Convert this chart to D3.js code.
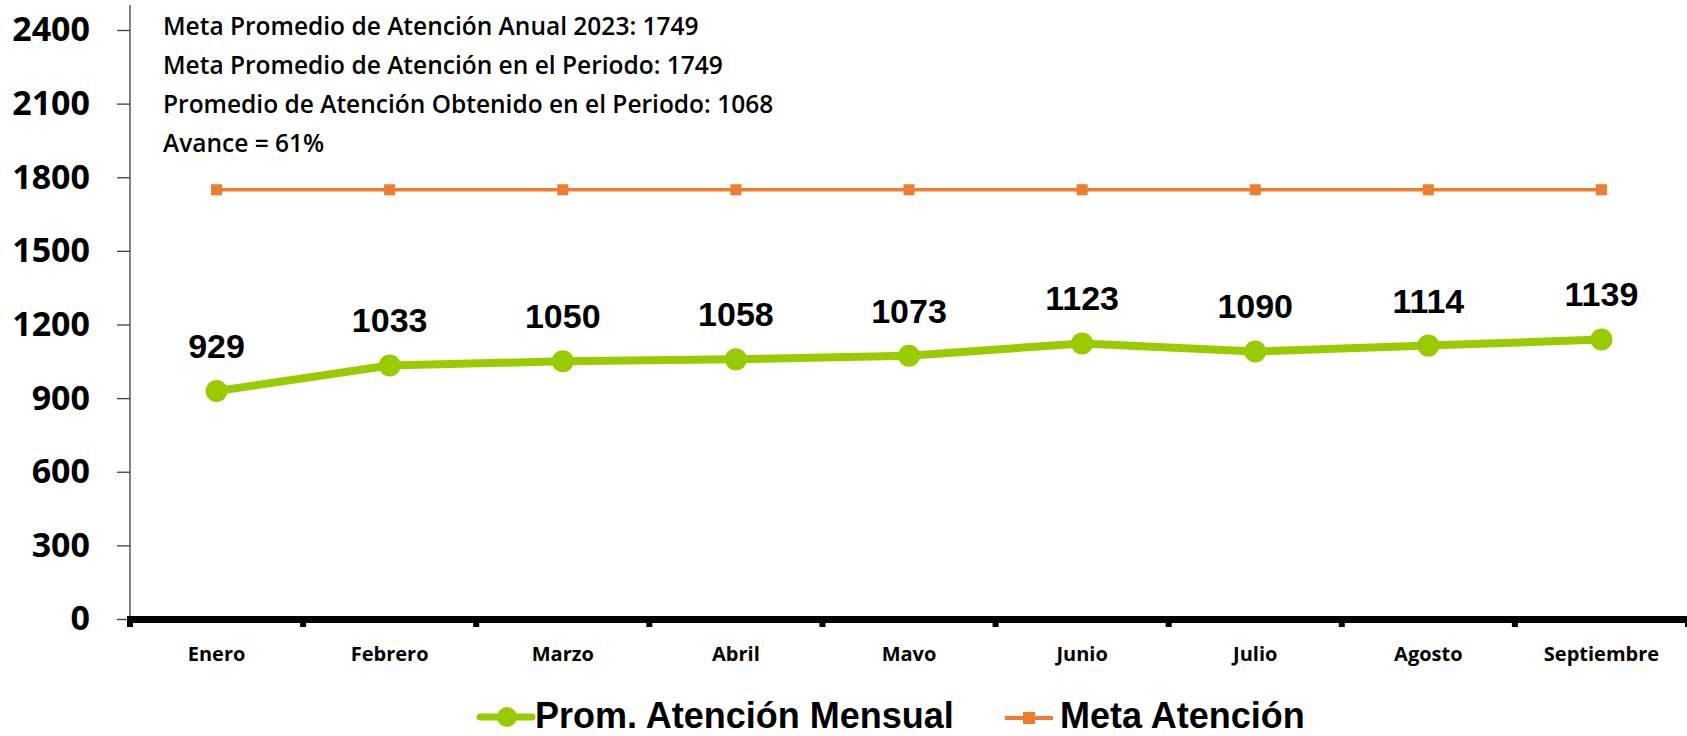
<!DOCTYPE html>
<html>
<head>
<meta charset="utf-8">
<script src="https://cdn.jsdelivr.net/npm/d3@7"></script>
<style>
  html, body { margin: 0; padding: 0; background: #fff; }
  svg { display: block; }
</style>
</head>
<body>
<svg id="chart" width="1687" height="736"></svg>
<script>
// Monthly attention averages vs. target
const months = ["Enero", "Febrero", "Marzo", "Abril", "Mavo", "Junio", "Julio", "Agosto", "Septiembre"];
const promMensual = [929, 1033, 1050, 1058, 1073, 1123, 1090, 1114, 1139];
const metaAtencion = [1749, 1749, 1749, 1749, 1749, 1749, 1749, 1749, 1749];
const yTicks = [0, 300, 600, 900, 1200, 1500, 1800, 2100, 2400];
const notes = [
  "Meta Promedio de Atención Anual 2023: 1749",
  "Meta Promedio de Atención en el Periodo: 1749",
  "Promedio de Atención Obtenido en el Periodo: 1068",
  "Avance = 61%"
];
const legendItems = ["Prom. Atención Mensual", "Meta Atención"];

const GREEN = "#99CC00";
const ORANGE = "#ED7D31";

const svg = d3.select("#chart");

const x = d3.scaleBand().domain(months).range([130, 1688]).padding(0);
const y = d3.scaleLinear().domain([0, 2400]).range([619, 30]);
const cx = d => x(d) + x.bandwidth() / 2;

// Y axis
const yAxis = svg.append("g")
  .attr("transform", "translate(130,0)")
  .call(d3.axisLeft(y).tickValues(yTicks).tickSize(13).tickPadding(27).tickFormat(d3.format("d")));
yAxis.select(".domain").remove();
yAxis.selectAll(".tick line").attr("stroke", "#404040").attr("stroke-width", 1.3);
yAxis.selectAll(".tick text")
  .attr("fill", "#000")
  .style("font-family", "'Open Sans', sans-serif")
  .style("font-weight", 700)
  .style("font-size", "34px");
svg.append("line")
  .attr("x1", 130).attr("x2", 130)
  .attr("y1", y(0)).attr("y2", y.range()[1] - 25)
  .attr("stroke", "#404040").attr("stroke-width", 1.3);

// X axis: heavy baseline with small ticks at category boundaries
const xAxis = svg.append("g")
  .attr("transform", `translate(0,${y(0)})`)
  .call(d3.axisBottom(x).tickSize(0).tickPadding(28));
xAxis.select(".domain").remove();
xAxis.selectAll(".tick text")
  .attr("fill", "#000")
  .style("font-family", "'Open Sans', sans-serif")
  .style("font-weight", 700)
  .style("font-size", "20px");

svg.append("line")
  .attr("x1", x.range()[0] - 3).attr("x2", x.range()[1])
  .attr("y1", y(0) + 0.5).attr("y2", y(0) + 0.5)
  .attr("stroke", "#000").attr("stroke-width", 7);

const bounds = months.map(m => x(m)).concat([x.range()[1]]);
svg.append("g").selectAll("rect")
  .data(bounds)
  .join("rect")
  .attr("x", d => d - 3)
  .attr("y", y(0))
  .attr("width", 6)
  .attr("height", 8)
  .attr("fill", "#000");

// Target line (orange, square markers)
svg.append("path")
  .datum(metaAtencion)
  .attr("fill", "none")
  .attr("stroke", ORANGE)
  .attr("stroke-width", 3.5)
  .attr("d", d3.line().x((d, i) => cx(months[i])).y(d => y(d)));
svg.append("g").selectAll("rect")
  .data(metaAtencion)
  .join("rect")
  .attr("x", (d, i) => cx(months[i]) - 5.5)
  .attr("y", d => y(d) - 5.5)
  .attr("width", 11).attr("height", 11)
  .attr("fill", ORANGE);

// Monthly average line (green, round markers)
svg.append("path")
  .datum(promMensual)
  .attr("fill", "none")
  .attr("stroke", GREEN)
  .attr("stroke-width", 8)
  .attr("stroke-linejoin", "round")
  .attr("d", d3.line().x((d, i) => cx(months[i])).y(d => y(d)));
svg.append("g").selectAll("circle")
  .data(promMensual)
  .join("circle")
  .attr("cx", (d, i) => cx(months[i]))
  .attr("cy", d => y(d))
  .attr("r", 11)
  .attr("fill", GREEN);

// Value labels
svg.append("g").selectAll("text")
  .data(promMensual)
  .join("text")
  .attr("x", (d, i) => cx(months[i]))
  .attr("y", d => y(d) - 33)
  .attr("text-anchor", "middle")
  .style("font-family", "'Liberation Sans', Arial, sans-serif")
  .style("font-weight", 700)
  .style("font-size", "34px")
  .text(d => d);

// Summary notes
svg.append("g").selectAll("text")
  .data(notes)
  .join("text")
  .attr("x", 163)
  .attr("y", (d, i) => 35 + i * 39)
  .style("font-family", "'Open Sans', sans-serif")
  .style("font-weight", 600)
  .style("font-size", "24.5px")
  .attr("fill", "#000")
  .text(d => d);

// Legend
const lg = svg.append("g")
  .style("font-family", "'Liberation Sans', Arial, sans-serif")
  .style("font-weight", 700)
  .style("font-size", "36px");
lg.append("line").attr("x1", 480).attr("x2", 532).attr("y1", 717).attr("y2", 717)
  .attr("stroke", GREEN).attr("stroke-width", 7).attr("stroke-linecap", "round");
lg.append("circle").attr("cx", 507).attr("cy", 717).attr("r", 10).attr("fill", GREEN);
lg.append("text").attr("x", 535).attr("y", 728).text(legendItems[0]);
lg.append("line").attr("x1", 1005).attr("x2", 1053).attr("y1", 718).attr("y2", 718)
  .attr("stroke", ORANGE).attr("stroke-width", 4);
lg.append("rect").attr("x", 1023).attr("y", 712).attr("width", 12).attr("height", 12).attr("fill", ORANGE);
lg.append("text").attr("x", 1060).attr("y", 728).text(legendItems[1]);
</script>
</body>
</html>
